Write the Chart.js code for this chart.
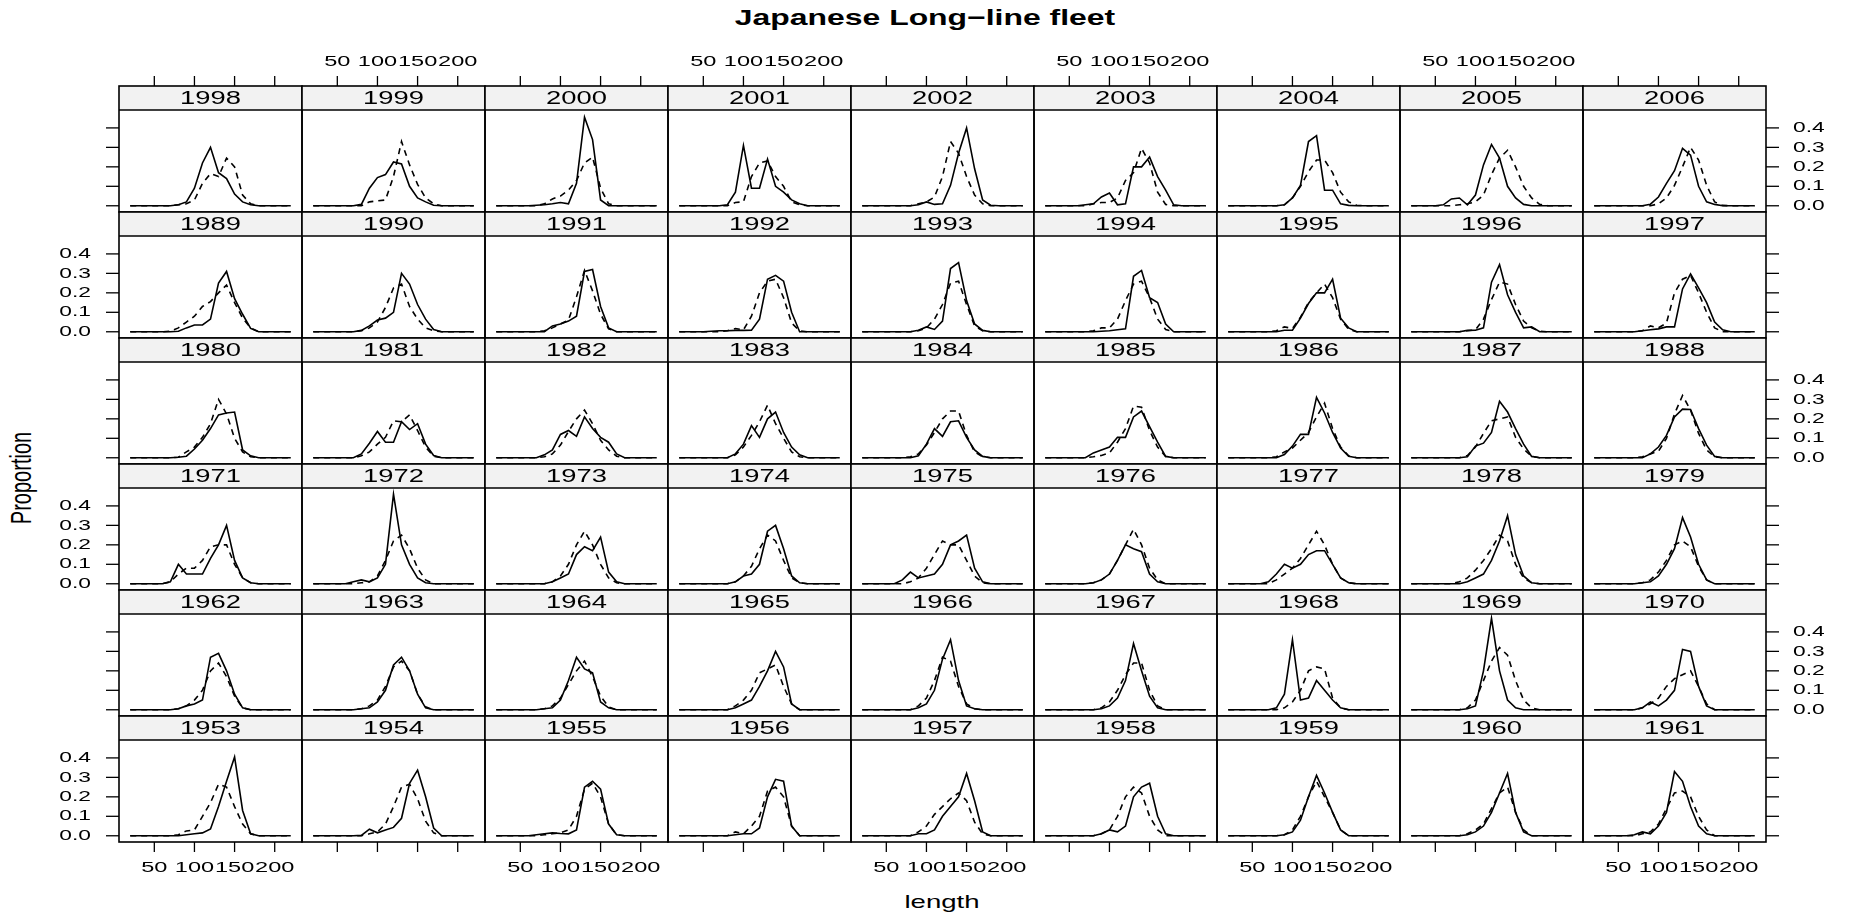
<!DOCTYPE html>
<html>
<head>
<meta charset="utf-8">
<title>Japanese Long-line fleet</title>
<script src="https://cdn.jsdelivr.net/npm/chart.js@4.4.1/dist/chart.umd.min.js"></script>
<style>
  html, body { margin: 0; padding: 0; background: #fff; }
  #wrap { position: relative; width: 1850px; height: 915px; overflow: hidden; }
  #wrap canvas { position: absolute; }
  .lbl { position: absolute; font-family: "Liberation Sans", Arial, sans-serif; color: #000; white-space: nowrap; }
</style>
</head>
<body>
<div id="wrap">
  <div class="lbl" id="title" style="left:925px;top:18px;font-size:22px;font-weight:bold;transform:translate(-50%,-50%) scaleX(1.45);">Japanese Long−line fleet</div>
  <div class="lbl" id="xlab" style="left:942px;top:902px;font-size:19px;transform:translate(-50%,-50%) scaleX(1.45);">length</div>
  <div class="lbl" id="ylab" style="left:22px;top:478px;font-size:20px;transform:translate(-50%,-50%) scaleX(1.45) rotate(-90deg);">Proportion</div>
</div>
<script>
// length classes (x) and axis ticks
const lengths = [20, 30, 40, 50, 60, 70, 80, 90, 100, 110, 120, 130, 140, 150, 160, 170, 180, 190, 200, 210, 220];
const xTicks = [50, 100, 150, 200];
const yTicks = [0, 0.1, 0.2, 0.3, 0.4];

// panel years, top row first
const rowYears = [
  [1998, 1999, 2000, 2001, 2002, 2003, 2004, 2005, 2006],
  [1989, 1990, 1991, 1992, 1993, 1994, 1995, 1996, 1997],
  [1980, 1981, 1982, 1983, 1984, 1985, 1986, 1987, 1988],
  [1971, 1972, 1973, 1974, 1975, 1976, 1977, 1978, 1979],
  [1962, 1963, 1964, 1965, 1966, 1967, 1968, 1969, 1970],
  [1953, 1954, 1955, 1956, 1957, 1958, 1959, 1960, 1961]
];

// solid line (obs) and dashed line (pred), one value per length class
const obs1998 = [0,0,0,0,0,0,0.005,0.02,0.09,0.22,0.30,0.17,0.14,0.06,0.02,0.005,0,0,0,0,0];
const pred1998 = [0,0,0,0,0,0,0.005,0.01,0.03,0.115,0.165,0.15,0.245,0.2,0.055,0.01,0,0,0,0,0];
const obs1999 = [0,0,0,0,0,0,0.007,0.09,0.145,0.16,0.225,0.215,0.1,0.04,0.02,0.003,0,0,0,0,0];
const pred1999 = [0,0,0,0,0,0,0,0.02,0.025,0.03,0.15,0.33,0.21,0.11,0.04,0.01,0,0,0,0,0];
const obs2000 = [0,0,0,0,0,0.003,0.005,0.01,0.017,0.01,0.115,0.455,0.34,0.03,0,0,0,0,0,0,0];
const pred2000 = [0,0,0,0,0,0,0.01,0.035,0.05,0.08,0.13,0.22,0.25,0.09,0.01,0,0,0,0,0,0];
const obs2001 = [0,0,0,0,0,0,0.005,0.07,0.31,0.09,0.09,0.24,0.1,0.07,0.03,0.01,0,0,0,0,0];
const pred2001 = [0,0,0,0,0,0,0,0.017,0.02,0.15,0.22,0.23,0.15,0.1,0.02,0.005,0,0,0,0,0];
const obs2002 = [0,0,0,0,0,0,0,0.005,0.02,0.007,0.01,0.105,0.27,0.4,0.19,0.03,0.003,0,0,0,0];
const pred2002 = [0,0,0,0,0,0,0,0.01,0.02,0.045,0.15,0.33,0.27,0.15,0.055,0.01,0,0,0,0,0];
const obs2003 = [0,0,0,0,0,0.005,0.01,0.045,0.065,0.005,0.01,0.2,0.2,0.25,0.15,0.08,0.005,0,0,0,0];
const pred2003 = [0,0,0,0,0,0,0.01,0.017,0.017,0.04,0.13,0.17,0.295,0.22,0.07,0.007,0,0,0,0,0];
const obs2004 = [0,0,0,0,0,0,0,0.005,0.04,0.105,0.33,0.36,0.08,0.08,0.01,0.002,0,0,0,0,0];
const pred2004 = [0,0,0,0,0,0,0,0.005,0.04,0.1,0.175,0.235,0.235,0.17,0.07,0.02,0.003,0,0,0,0];
const obs2005 = [0,0,0,0,0.005,0.035,0.04,0.005,0.055,0.21,0.315,0.245,0.1,0.04,0.007,0,0,0,0,0,0];
const pred2005 = [0,0,0,0,0,0,0.005,0.01,0.02,0.055,0.16,0.245,0.285,0.2,0.1,0.04,0.007,0,0,0,0];
const obs2006 = [0,0,0,0,0,0,0,0.008,0.045,0.115,0.18,0.295,0.26,0.1,0.02,0.007,0,0,0,0,0];
const pred2006 = [0,0,0,0,0,0,0,0,0.01,0.04,0.105,0.2,0.3,0.235,0.105,0.02,0.002,0,0,0,0];

const obs1989 = [0,0,0,0,0,0,0.003,0.02,0.035,0.035,0.065,0.25,0.31,0.17,0.09,0.017,0,0,0,0,0];
const pred1989 = [0,0,0,0,0,0.003,0.02,0.05,0.08,0.13,0.155,0.2,0.24,0.15,0.07,0.02,0,0,0,0,0];
const obs1990 = [0,0,0,0,0,0,0.007,0.03,0.06,0.07,0.1,0.3,0.245,0.14,0.065,0.012,0,0,0,0,0];
const pred1990 = [0,0,0,0,0,0,0.005,0.02,0.05,0.125,0.225,0.245,0.13,0.065,0.02,0.005,0,0,0,0,0];
const obs1991 = [0,0,0,0,0,0,0,0.03,0.04,0.055,0.08,0.31,0.32,0.13,0.02,0,0,0,0,0,0];
const pred1991 = [0,0,0,0,0,0,0.005,0.02,0.04,0.06,0.18,0.315,0.21,0.09,0.015,0,0,0,0,0,0];
const obs1992 = [0,0,0,0,0.003,0.005,0.005,0.007,0.007,0.008,0.065,0.27,0.29,0.26,0.1,0,0,0,0,0,0];
const pred1992 = [0,0,0,0,0,0,0.005,0.017,0.01,0.08,0.2,0.26,0.27,0.175,0.045,0.005,0,0,0,0,0];
const obs1993 = [0,0,0,0,0,0,0,0.008,0.025,0.012,0.055,0.325,0.355,0.16,0.04,0.007,0,0,0,0,0];
const pred1993 = [0,0,0,0,0,0,0,0.005,0.02,0.065,0.14,0.25,0.26,0.14,0.03,0.005,0,0,0,0,0];
const obs1994 = [0,0,0,0,0,0,0,0.003,0.005,0.01,0.015,0.285,0.315,0.175,0.15,0.04,0,0,0,0,0];
const pred1994 = [0,0,0,0,0,0,0.005,0.02,0.02,0.065,0.16,0.245,0.26,0.175,0.065,0.012,0,0,0,0,0];
const obs1995 = [0,0,0,0,0,0,0,0.008,0.008,0.07,0.145,0.2,0.2,0.27,0.07,0.02,0,0,0,0,0];
const pred1995 = [0,0,0,0,0,0,0.005,0.025,0.017,0.075,0.15,0.2,0.245,0.175,0.065,0.012,0,0,0,0,0];
const obs1996 = [0,0,0,0,0,0,0,0.007,0.008,0.02,0.255,0.345,0.19,0.1,0.02,0.025,0,0,0,0,0];
const pred1996 = [0,0,0,0,0,0,0,0.005,0.01,0.065,0.165,0.255,0.245,0.14,0.055,0.02,0.003,0,0,0,0];
const obs1997 = [0,0,0,0,0,0,0.005,0.01,0.015,0.025,0.025,0.22,0.297,0.225,0.15,0.05,0.01,0,0,0,0];
const pred1997 = [0,0,0,0,0,0,0.005,0.03,0.02,0.045,0.2,0.27,0.29,0.2,0.1,0.02,0,0,0,0,0];

const obs1980 = [0,0,0,0,0,0,0.003,0.008,0.045,0.09,0.15,0.22,0.23,0.235,0.04,0.01,0,0,0,0,0];
const pred1980 = [0,0,0,0,0,0,0.003,0.03,0.055,0.105,0.175,0.3,0.225,0.1,0.03,0.005,0,0,0,0,0];
const obs1981 = [0,0,0,0,0,0,0.02,0.075,0.135,0.08,0.08,0.185,0.145,0.175,0.07,0.012,0,0,0,0,0];
const pred1981 = [0,0,0,0,0,0,0.01,0.03,0.07,0.105,0.19,0.185,0.22,0.14,0.055,0.008,0,0,0,0,0];
const obs1982 = [0,0,0,0,0,0,0.015,0.04,0.12,0.14,0.11,0.21,0.15,0.105,0.08,0.02,0,0,0,0,0];
const pred1982 = [0,0,0,0,0,0,0.005,0.02,0.065,0.135,0.2,0.245,0.175,0.09,0.04,0.008,0,0,0,0,0];
const obs1983 = [0,0,0,0,0,0,0,0.02,0.07,0.165,0.105,0.2,0.235,0.13,0.055,0.015,0,0,0,0,0];
const pred1983 = [0,0,0,0,0,0,0,0.015,0.055,0.115,0.185,0.27,0.175,0.1,0.03,0.005,0,0,0,0,0];
const obs1984 = [0,0,0,0,0,0,0,0.01,0.07,0.15,0.11,0.185,0.19,0.105,0.04,0.007,0,0,0,0,0];
const pred1984 = [0,0,0,0,0,0,0.005,0.02,0.065,0.13,0.2,0.24,0.24,0.115,0.03,0.005,0,0,0,0,0];
const obs1985 = [0,0,0,0,0,0,0.025,0.04,0.055,0.105,0.105,0.21,0.24,0.16,0.08,0.007,0,0,0,0,0];
const pred1985 = [0,0,0,0,0,0,0.005,0.012,0.025,0.08,0.15,0.265,0.26,0.14,0.055,0.007,0,0,0,0,0];
const obs1986 = [0,0,0,0,0,0,0,0.017,0.06,0.12,0.12,0.31,0.23,0.13,0.05,0.008,0,0,0,0,0];
const pred1986 = [0,0,0,0,0,0,0.005,0.03,0.05,0.09,0.13,0.21,0.28,0.15,0.055,0.01,0,0,0,0,0];
const obs1987 = [0,0,0,0,0,0,0,0.005,0.06,0.075,0.13,0.29,0.235,0.15,0.07,0.007,0,0,0,0,0];
const pred1987 = [0,0,0,0,0,0,0,0.012,0.055,0.125,0.19,0.2,0.21,0.105,0.045,0.007,0,0,0,0,0];
const obs1988 = [0,0,0,0,0,0,0,0.02,0.055,0.115,0.21,0.25,0.248,0.15,0.065,0.007,0,0,0,0,0];
const pred1988 = [0,0,0,0,0,0,0.005,0.02,0.033,0.1,0.225,0.32,0.245,0.125,0.04,0.005,0,0,0,0,0];

const obs1971 = [0,0,0,0,0,0.01,0.1,0.05,0.05,0.05,0.13,0.2,0.3,0.12,0.03,0.005,0,0,0,0,0];
const pred1971 = [0,0,0,0,0,0.01,0.05,0.08,0.08,0.12,0.19,0.2,0.2,0.1,0.03,0.005,0,0,0,0,0];
const obs1972 = [0,0,0,0,0,0.01,0.02,0.01,0.03,0.1,0.46,0.2,0.1,0.03,0.005,0,0,0,0,0,0];
const pred1972 = [0,0,0,0,0,0,0.005,0.01,0.04,0.12,0.22,0.25,0.18,0.08,0.02,0,0,0,0,0,0];
const obs1973 = [0,0,0,0,0,0,0,0.01,0.03,0.05,0.15,0.19,0.17,0.24,0.06,0.01,0,0,0,0,0];
const pred1973 = [0,0,0,0,0,0,0,0.01,0.04,0.1,0.2,0.27,0.2,0.1,0.03,0.005,0,0,0,0,0];
const obs1974 = [0,0,0,0,0,0,0,0.01,0.04,0.05,0.1,0.27,0.3,0.18,0.04,0.005,0,0,0,0,0];
const pred1974 = [0,0,0,0,0,0,0,0.01,0.04,0.09,0.18,0.25,0.22,0.12,0.03,0.005,0,0,0,0,0];
const obs1975 = [0,0,0,0,0,0.02,0.06,0.03,0.04,0.05,0.1,0.2,0.22,0.25,0.08,0.01,0,0,0,0,0];
const pred1975 = [0,0,0,0,0,0,0.01,0.03,0.08,0.15,0.22,0.2,0.2,0.12,0.04,0.005,0,0,0,0,0];
const obs1976 = [0,0,0,0,0,0,0.005,0.02,0.05,0.12,0.2,0.18,0.165,0.05,0.01,0,0,0,0,0,0];
const pred1976 = [0,0,0,0,0,0,0.005,0.02,0.05,0.12,0.2,0.28,0.2,0.08,0.02,0,0,0,0,0,0];
const obs1977 = [0,0,0,0,0,0.01,0.05,0.1,0.08,0.1,0.15,0.17,0.17,0.1,0.03,0.005,0,0,0,0,0];
const pred1977 = [0,0,0,0,0,0,0.02,0.05,0.08,0.13,0.2,0.27,0.2,0.1,0.03,0.005,0,0,0,0,0];
const obs1978 = [0,0,0,0,0,0,0,0.01,0.03,0.05,0.12,0.22,0.35,0.15,0.04,0.005,0,0,0,0,0];
const pred1978 = [0,0,0,0,0,0,0.01,0.03,0.07,0.12,0.18,0.25,0.22,0.1,0.03,0.005,0,0,0,0,0];
const obs1979 = [0,0,0,0,0,0,0.005,0.01,0.04,0.1,0.18,0.34,0.24,0.1,0.02,0,0,0,0,0,0];
const pred1979 = [0,0,0,0,0,0,0.005,0.02,0.06,0.12,0.2,0.22,0.19,0.09,0.02,0,0,0,0,0,0];

const obs1962 = [0,0,0,0,0,0,0.005,0.02,0.03,0.05,0.27,0.29,0.2,0.08,0.01,0,0,0,0,0,0];
const pred1962 = [0,0,0,0,0,0,0.005,0.02,0.05,0.1,0.2,0.24,0.17,0.07,0.01,0,0,0,0,0,0];
const obs1963 = [0,0,0,0,0,0,0.005,0.01,0.04,0.1,0.23,0.27,0.2,0.08,0.01,0,0,0,0,0,0];
const pred1963 = [0,0,0,0,0,0,0.005,0.02,0.05,0.12,0.22,0.25,0.2,0.08,0.015,0,0,0,0,0,0];
const obs1964 = [0,0,0,0,0,0,0.005,0.01,0.05,0.15,0.27,0.21,0.19,0.04,0.01,0,0,0,0,0,0];
const pred1964 = [0,0,0,0,0,0,0.005,0.02,0.06,0.13,0.2,0.25,0.17,0.07,0.015,0,0,0,0,0,0];
const obs1965 = [0,0,0,0,0,0,0,0.01,0.03,0.05,0.12,0.2,0.3,0.22,0.03,0,0,0,0,0,0];
const pred1965 = [0,0,0,0,0,0,0,0.02,0.05,0.1,0.19,0.21,0.23,0.12,0.03,0,0,0,0,0,0];
const obs1966 = [0,0,0,0,0,0,0,0.01,0.03,0.1,0.26,0.36,0.15,0.02,0.005,0,0,0,0,0,0];
const pred1966 = [0,0,0,0,0,0,0,0.02,0.06,0.15,0.27,0.25,0.12,0.03,0.005,0,0,0,0,0,0];
const obs1967 = [0,0,0,0,0,0,0,0.005,0.02,0.06,0.15,0.34,0.2,0.07,0.01,0,0,0,0,0,0];
const pred1967 = [0,0,0,0,0,0,0,0.01,0.04,0.1,0.18,0.24,0.24,0.1,0.02,0,0,0,0,0,0];
const obs1968 = [0,0,0,0,0,0,0.01,0.08,0.36,0.05,0.06,0.15,0.1,0.05,0.01,0,0,0,0,0,0];
const pred1968 = [0,0,0,0,0,0,0,0.01,0.04,0.1,0.2,0.22,0.21,0.06,0.01,0,0,0,0,0,0];
const obs1969 = [0,0,0,0,0,0,0,0.005,0.02,0.2,0.47,0.2,0.05,0.01,0,0,0,0,0,0,0];
const pred1969 = [0,0,0,0,0,0,0,0.01,0.05,0.15,0.25,0.32,0.28,0.15,0.05,0.01,0,0,0,0,0];
const obs1970 = [0,0,0,0,0,0,0.01,0.04,0.02,0.05,0.1,0.31,0.3,0.12,0.02,0,0,0,0,0,0];
const pred1970 = [0,0,0,0,0,0,0.01,0.03,0.06,0.12,0.16,0.18,0.2,0.12,0.03,0,0,0,0,0,0];

const obs1953 = [0,0,0,0,0,0,0,0.005,0.01,0.015,0.035,0.15,0.28,0.405,0.13,0.01,0,0,0,0,0];
const pred1953 = [0,0,0,0,0,0,0.005,0.025,0.03,0.1,0.17,0.265,0.25,0.15,0.06,0.01,0,0,0,0,0];
const obs1954 = [0,0,0,0,0,0,0.002,0.034,0.015,0.03,0.043,0.09,0.27,0.337,0.2,0.04,0,0,0,0,0];
const pred1954 = [0,0,0,0,0,0,0,0.01,0.02,0.06,0.15,0.25,0.265,0.19,0.075,0.015,0,0,0,0,0];
const obs1955 = [0,0,0,0,0,0.005,0.01,0.015,0.012,0.01,0.03,0.25,0.28,0.24,0.06,0.005,0,0,0,0,0];
const pred1955 = [0,0,0,0,0,0,0.005,0.01,0.015,0.03,0.1,0.24,0.27,0.2,0.06,0.005,0,0,0,0,0];
const obs1956 = [0,0,0,0,0,0,0,0.005,0.01,0.01,0.04,0.2,0.29,0.28,0.05,0,0,0,0,0,0];
const pred1956 = [0,0,0,0,0,0,0,0.02,0.01,0.05,0.1,0.23,0.25,0.2,0.05,0,0,0,0,0,0];
const obs1957 = [0,0,0,0,0,0,0,0.01,0.01,0.03,0.1,0.15,0.2,0.32,0.18,0.02,0,0,0,0,0];
const pred1957 = [0,0,0,0,0,0,0,0.02,0.05,0.11,0.15,0.19,0.22,0.18,0.07,0.01,0,0,0,0,0];
const obs1958 = [0,0,0,0,0,0,0,0.01,0.03,0.02,0.05,0.2,0.25,0.27,0.1,0.01,0,0,0,0,0];
const pred1958 = [0,0,0,0,0,0,0,0.01,0.03,0.1,0.2,0.25,0.22,0.1,0.03,0,0,0,0,0,0];
const obs1959 = [0,0,0,0,0,0,0,0.005,0.02,0.08,0.2,0.31,0.22,0.12,0.03,0,0,0,0,0,0];
const pred1959 = [0,0,0,0,0,0,0,0.005,0.03,0.1,0.2,0.28,0.2,0.12,0.03,0,0,0,0,0,0];
const obs1960 = [0,0,0,0,0,0,0,0.005,0.02,0.05,0.12,0.22,0.32,0.12,0.02,0,0,0,0,0,0];
const pred1960 = [0,0,0,0,0,0,0,0.01,0.03,0.06,0.14,0.22,0.25,0.12,0.03,0,0,0,0,0,0];
const obs1961 = [0,0,0,0,0,0.005,0.02,0.01,0.05,0.12,0.33,0.28,0.15,0.05,0.01,0,0,0,0,0,0];
const pred1961 = [0,0,0,0,0,0,0.01,0.02,0.06,0.14,0.22,0.23,0.2,0.1,0.03,0,0,0,0,0,0];

// lookup table year -> [solid, dashed]
const series = {
  1998: [obs1998, pred1998], 1999: [obs1999, pred1999], 2000: [obs2000, pred2000],
  2001: [obs2001, pred2001], 2002: [obs2002, pred2002], 2003: [obs2003, pred2003],
  2004: [obs2004, pred2004], 2005: [obs2005, pred2005], 2006: [obs2006, pred2006],
  1989: [obs1989, pred1989], 1990: [obs1990, pred1990], 1991: [obs1991, pred1991],
  1992: [obs1992, pred1992], 1993: [obs1993, pred1993], 1994: [obs1994, pred1994],
  1995: [obs1995, pred1995], 1996: [obs1996, pred1996], 1997: [obs1997, pred1997],
  1980: [obs1980, pred1980], 1981: [obs1981, pred1981], 1982: [obs1982, pred1982],
  1983: [obs1983, pred1983], 1984: [obs1984, pred1984], 1985: [obs1985, pred1985],
  1986: [obs1986, pred1986], 1987: [obs1987, pred1987], 1988: [obs1988, pred1988],
  1971: [obs1971, pred1971], 1972: [obs1972, pred1972], 1973: [obs1973, pred1973],
  1974: [obs1974, pred1974], 1975: [obs1975, pred1975], 1976: [obs1976, pred1976],
  1977: [obs1977, pred1977], 1978: [obs1978, pred1978], 1979: [obs1979, pred1979],
  1962: [obs1962, pred1962], 1963: [obs1963, pred1963], 1964: [obs1964, pred1964],
  1965: [obs1965, pred1965], 1966: [obs1966, pred1966], 1967: [obs1967, pred1967],
  1968: [obs1968, pred1968], 1969: [obs1969, pred1969], 1970: [obs1970, pred1970],
  1953: [obs1953, pred1953], 1954: [obs1954, pred1954], 1955: [obs1955, pred1955],
  1956: [obs1956, pred1956], 1957: [obs1957, pred1957], 1958: [obs1958, pred1958],
  1959: [obs1959, pred1959], 1960: [obs1960, pred1960], 1961: [obs1961, pred1961]
};

// layout (page pixels)
const LEFT = 119, TOP = 86, PW = 183, PH = 126, STRIP = 24, M = 2;
const NROW = rowYears.length, NCOL = rowYears[0].length;
const STRETCH = 1.52; // the reference text is drawn wide
const FONT = '"Liberation Sans", Arial, sans-serif';

function wideText(ctx, text, x, y, align, size) {
  ctx.save();
  ctx.translate(x, y);
  ctx.scale(STRETCH, 1);
  ctx.font = size + "px " + FONT;
  ctx.fillStyle = "#000";
  ctx.textAlign = align;
  ctx.textBaseline = "middle";
  ctx.fillText(text, 0, 0);
  ctx.restore();
}

const latticePanel = {
  id: "latticePanel",
  beforeDraw(chart, args, o) {
    const { ctx, chartArea: a } = chart;
    ctx.save();
    ctx.fillStyle = "#f2f2f2";
    ctx.fillRect(a.left, a.top - STRIP, a.right - a.left, STRIP);
    ctx.restore();
  },
  afterDraw(chart, args, o) {
    const { ctx, chartArea: a, scales: { x, y } } = chart;
    const sTop = a.top - STRIP;
    ctx.save();
    ctx.strokeStyle = "#000";
    ctx.lineWidth = 1.6;
    ctx.strokeRect(a.left, sTop, a.right - a.left, a.bottom - sTop);
    ctx.beginPath();
    ctx.moveTo(a.left, a.top); ctx.lineTo(a.right, a.top);
    ctx.stroke();
    wideText(ctx, String(o.year), (a.left + a.right) / 2, sTop + STRIP / 2 + 1, "center", 18);

    ctx.lineWidth = 1.3;
    if (o.row === 0) {
      xTicks.forEach(t => {
        const px = x.getPixelForValue(t);
        ctx.beginPath(); ctx.moveTo(px, sTop); ctx.lineTo(px, sTop - 10); ctx.stroke();
        if (o.col % 2 === 1) wideText(ctx, String(t), px, sTop - 24, "center", 15.5);
      });
    }
    if (o.row === NROW - 1) {
      xTicks.forEach(t => {
        const px = x.getPixelForValue(t);
        ctx.beginPath(); ctx.moveTo(px, a.bottom); ctx.lineTo(px, a.bottom + 10); ctx.stroke();
        if (o.col % 2 === 0) wideText(ctx, String(t), px, a.bottom + 26, "center", 15.5);
      });
    }
    if (o.col === 0) {
      yTicks.forEach(t => {
        const py = y.getPixelForValue(t);
        ctx.beginPath(); ctx.moveTo(a.left, py); ctx.lineTo(a.left - 13, py); ctx.stroke();
        if (o.row % 2 === 1) wideText(ctx, t.toFixed(1), a.left - 28, py, "right", 15);
      });
    }
    if (o.col === NCOL - 1) {
      yTicks.forEach(t => {
        const py = y.getPixelForValue(t);
        ctx.beginPath(); ctx.moveTo(a.right, py); ctx.lineTo(a.right + 13, py); ctx.stroke();
        if (o.row % 2 === 0) wideText(ctx, t.toFixed(1), a.right + 27, py, "left", 15);
      });
    }
    ctx.restore();
  }
};

const wrap = document.getElementById("wrap");
rowYears.forEach((years, r) => {
  years.forEach((year, c) => {
    const padL = M + (c === 0 ? 75 : 0);
    const padR = M + (c === NCOL - 1 ? 82 : 0);
    const padT = STRIP + M + (r === 0 ? 42 : 0);
    const padB = M + (r === NROW - 1 ? 42 : 0);
    const w = PW + padL + padR;
    const h = PH - STRIP + padT + padB;
    const canvas = document.createElement("canvas");
    canvas.width = w; canvas.height = h;
    canvas.style.width = w + "px"; canvas.style.height = h + "px";
    canvas.style.left = (LEFT + c * PW - padL) + "px";
    canvas.style.top = (TOP + r * PH + STRIP - padT) + "px";
    wrap.appendChild(canvas);

    const [solid, dashed] = series[year];
    new Chart(canvas, {
      type: "line",
      data: {
        datasets: [
          { data: solid.map((v, i) => ({ x: lengths[i], y: v })), borderColor: "#000", borderWidth: 1.6, pointRadius: 0, tension: 0, fill: false },
          { data: dashed.map((v, i) => ({ x: lengths[i], y: v })), borderColor: "#000", borderWidth: 1.6, borderDash: [6, 5], pointRadius: 0, tension: 0, fill: false }
        ]
      },
      options: {
        responsive: false,
        animation: false,
        devicePixelRatio: 1,
        events: [],
        layout: { padding: { left: padL, right: padR, top: padT, bottom: padB } },
        scales: {
          x: { type: "linear", min: 6, max: 234, display: false },
          y: { min: -0.032, max: 0.492, display: false }
        },
        plugins: {
          legend: { display: false },
          tooltip: { enabled: false },
          latticePanel: { year, row: r, col: c }
        }
      },
      plugins: [latticePanel]
    });
  });
});
</script>
</body>
</html>
